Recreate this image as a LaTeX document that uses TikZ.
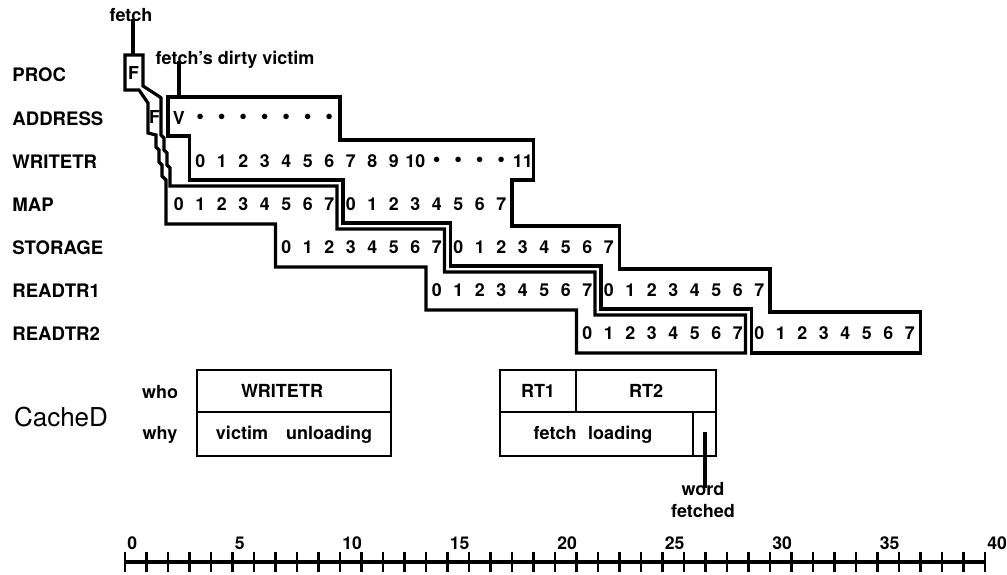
\documentclass[tikz,border=0pt]{standalone}
\usepackage{fontspec}
\setmainfont{TeX Gyre Heros}
\begin{document}
\begin{tikzpicture}[x=0.5pt,y=-0.5pt,
  outline/.style={line width=1.6pt,line join=miter},
  pointer/.style={line width=1.6pt},
  cbox/.style={line width=1.2pt},
  axisline/.style={line width=1.6pt},
  tickmark/.style={line width=1.2pt},
  rowlab/.style={font=\fontsize{9.3}{11}\selectfont\bfseries,anchor=west,inner sep=0pt},
  cell/.style={font=\fontsize{8.9}{10}\selectfont\bfseries,inner sep=0pt},
  dotcell/.style={font=\fontsize{11}{12}\selectfont\bfseries,inner sep=0pt},
  note/.style={font=\fontsize{9}{10.8}\selectfont\bfseries,inner sep=0pt,text depth=0pt},
  boxtext/.style={font=\fontsize{9}{10.8}\selectfont\bfseries,inner sep=0pt,text depth=0pt},
  bigtext/.style={font=\fontsize{13}{15}\selectfont,inner sep=0pt},
  ticklab/.style={font=\fontsize{8.8}{10}\selectfont\bfseries,anchor=south west,inner sep=0pt}
]
\useasboundingbox (0,0) rectangle (1007,574);

% row labels
\node[rowlab] (lproc)  at (12,75)    {PROC};
\node[rowlab] (laddr)  at (12,118.5) {ADDRESS};
\node[rowlab] (lwtr)   at (12,161.5) {WRITETR};
\node[rowlab] (lmap)   at (12,204.5) {MAP};
\node[rowlab] (lstor)  at (12,247.5) {STORAGE};
\node[rowlab] (lrt1)   at (12,290.5) {READTR1};
\node[rowlab] (lrt2)   at (12,333.5) {READTR2};

% fetch outline
\draw[outline] (125,55) -- (143,55) -- (143,86) -- (160,97) -- (161,98) -- (161,135)
  -- (164,138) -- (164,150) -- (167,153) -- (167,165) -- (170,168) -- (170,186)
  -- (337,186) -- (337,229) -- (444.5,229) -- (444.5,272) -- (595,272) -- (595,315)
  -- (745.5,315) -- (745.5,353) -- (576.5,353) -- (576.5,310) -- (426,310) -- (426,267)
  -- (275.5,267) -- (275.5,224) -- (166,224) -- (166,180) -- (162,176) -- (162,165)
  -- (159,162) -- (159,150) -- (156,147) -- (156,135) -- (148,133) -- (148,103)
  -- (139,90) -- (125,90) -- cycle;

% victim outline
\draw[outline] (168,97) -- (340,97) -- (340,140) -- (533.5,140) -- (533.5,180) -- (512,180)
  -- (512,226) -- (619.5,226) -- (619.5,269) -- (770,269) -- (770,312) -- (920.5,312)
  -- (920.5,353) -- (751.5,353) -- (751.5,309) -- (601,309) -- (601,266) -- (450.5,266)
  -- (450.5,223) -- (343,223) -- (343,180) -- (189.5,180) -- (189.5,136) -- (168,136) -- cycle;

% cell texts
\node[cell] (pF) at (133.5,73) {F};
\node[cell] (aF) at (154.5,117.5) {F};
\node[cell] (aV) at (178.75,118.5) {V};
\foreach \c in {3,...,9} \node[dotcell] (ad\c) at ({135.75+21.5*\c},118.5) {•};
\foreach \d [count=\c from 3] in {0,...,10} \node[cell] (wt\d) at ({135.75+21.5*\c},161.5) {\d};
\foreach \c in {14,...,17} \node[dotcell] (wd\c) at ({135.75+21.5*\c},161.5) {•};
\node[cell] (wt11) at ({135.75+21.5*18},161.5) {11};
\foreach \d [count=\c from 2] in {0,...,7} \node[cell] (ma\d) at ({135.75+21.5*\c},204.5) {\d};
\foreach \d [count=\c from 10] in {0,...,7} \node[cell] (mb\d) at ({135.75+21.5*\c},204.5) {\d};
\foreach \d [count=\c from 7] in {0,...,7} \node[cell] (sa\d) at ({135.75+21.5*\c},247.5) {\d};
\foreach \d [count=\c from 15] in {0,...,7} \node[cell] (sb\d) at ({135.75+21.5*\c},247.5) {\d};
\foreach \d [count=\c from 14] in {0,...,7} \node[cell] (ra\d) at ({135.75+21.5*\c},290.5) {\d};
\foreach \d [count=\c from 22] in {0,...,7} \node[cell] (rb\d) at ({135.75+21.5*\c},290.5) {\d};
\foreach \d [count=\c from 21] in {0,...,7} \node[cell] (qa\d) at ({135.75+21.5*\c},333.5) {\d};
\foreach \d [count=\c from 29] in {0,...,7} \node[cell] (qb\d) at ({135.75+21.5*\c},333.5) {\d};

% pointers
\node[note] (fetchlab) at (131,15) {fetch};
\coordinate (fp) at (133,55);
\draw[pointer] (fetchlab.south -| fp) ++(0,-3) -- (fp);
\node[note] (victlab) at (235,58) {fetch’s dirty victim};
\coordinate (vp) at (179,97);
\draw[pointer] (victlab.south -| vp) ++(0,-4) -- (vp);

% CacheD
\node[bigtext] (cached) at (61,417) {CacheD};
\node[note] (who) at (160,392) {who};
\node[note] (why) at (160,433) {why};
\draw[cbox] (197,370) rectangle (391,456);
\draw[cbox] (197,412) -- (391,412);
\node[boxtext] (bw) at (282,391) {WRITETR};
\node[boxtext] (bv) at (294,433) {victim\quad unloading};

\draw[cbox] (500,370) rectangle (716,456);
\draw[cbox] (500,412) -- (716,412);
\draw[cbox] (576,370) -- (576,412);
\draw[cbox] (693,412) -- (693,456);
\node[boxtext] (brt1) at (538,391) {RT1};
\node[boxtext] (brt2) at (646,391) {RT2};
\node[boxtext] (bfl) at (593,433) {fetch\hspace{0.65em}loading};
\coordinate (wp) at (705,432);
\node[note,align=center] (wordlab) at (703,500) {word\\fetched};
\draw[pointer] (wp) -- ([yshift=-3]wordlab.north -| wp);

% axis
\draw[axisline] (125,562) -- (985,562);
\foreach \i in {0,...,40} \draw[tickmark] ({125+21.5*\i},552) -- ({125+21.5*\i},572);
\foreach \i in {0,5,...,40} \node[ticklab] (tl\i) at ({127+21.5*\i},550) {\i};
\end{tikzpicture}
\end{document}
